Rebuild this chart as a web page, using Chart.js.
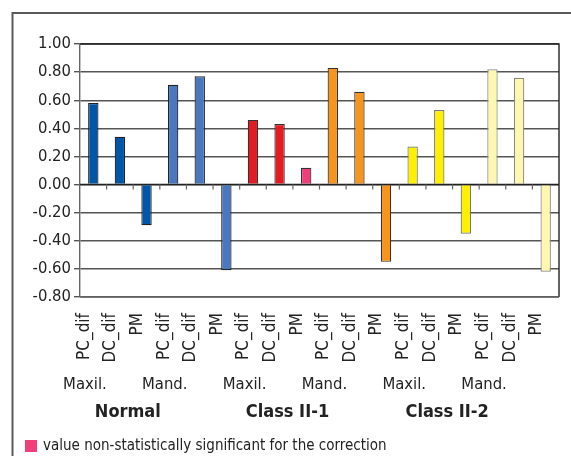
<!DOCTYPE html>
<html>
<head>
<meta charset="utf-8">
<script src="https://cdn.jsdelivr.net/npm/chart.js@4/dist/chart.umd.min.js"></script>
<style>
  body { margin: 0; background: #fff; }
  canvas { display: block; }
</style>
</head>
<body>
<canvas id="chart" width="571" height="456"></canvas>
<script>
const measures = ["PC_dif", "DC_dif", "PM", "PC_dif", "DC_dif", "PM", "PC_dif", "DC_dif", "PM",
                  "PC_dif", "DC_dif", "PM", "PC_dif", "DC_dif", "PM", "PC_dif", "DC_dif", "PM"];
const jaws = ["Maxil.", "Mand.", "Maxil.", "Mand.", "Maxil.", "Mand."];
const groups = ["Normal", "Class II-1", "Class II-2"];
const values = [0.58, 0.34, -0.29, 0.71, 0.77, -0.61,
                0.46, 0.43, 0.12, 0.83, 0.66, -0.55,
                0.27, 0.53, -0.35, 0.82, 0.76, -0.62];
const barColors = ["#0057a8", "#0057a8", "#0057a8", "#4a78be", "#4a78be", "#4a78be",
                   "#e41b23", "#e41b23", "#ef3f78", "#f7941d", "#f7941d", "#f7941d",
                   "#fff000", "#fff000", "#fff000", "#fff6b0", "#fff6b0", "#fff6b0"];
const edgeColors = ["#222", "#222", "#222", "#222", "#222", "#222",
                    "#333", "#333", "#333", "#333", "#333", "#333",
                    "#777", "#777", "#777", "#888", "#888", "#888"];
const legendText = "value non-statistically significant for the correction";
const legendColor = "#ef3f78";

const FONT = "'DejaVu Sans Condensed', 'Liberation Sans Narrow', sans-serif";

// fixed band height, no side overflow padding
const fitBand = (h) => (s) => {
  s.height = h;
  s.paddingLeft = 0;
  s.paddingRight = 0;
};

const framePlugin = {
  id: "frame",
  beforeDraw(chart) {
    const ctx = chart.ctx;
    ctx.save();
    ctx.strokeStyle = "#5a5a5a";
    ctx.lineWidth = 2;
    ctx.beginPath();
    ctx.moveTo(12.5, chart.height);
    ctx.lineTo(12.5, 13);
    ctx.lineTo(chart.width, 13);
    ctx.stroke();
    ctx.restore();
  },
  afterDatasetsDraw(chart) {
    const { ctx, chartArea: a, scales } = chart;
    const y0 = scales.y.getPixelForValue(0);
    const xs = scales.x;
    ctx.save();
    // plot border
    ctx.strokeStyle = "#222";
    ctx.lineWidth = 1.4;
    ctx.beginPath();
    ctx.moveTo(a.left, a.top);
    ctx.lineTo(a.right, a.top);
    ctx.lineTo(a.right, a.bottom);
    ctx.stroke();
    ctx.strokeStyle = "#666";
    ctx.beginPath();
    ctx.moveTo(a.right, a.bottom);
    ctx.lineTo(a.left, a.bottom);
    ctx.stroke();
    // zero axis with category ticks
    ctx.strokeStyle = "#222";
    ctx.lineWidth = 1.5;
    ctx.beginPath();
    ctx.moveTo(a.left, y0);
    ctx.lineTo(a.right, y0);
    ctx.stroke();
    ctx.strokeStyle = "#666";
    ctx.lineWidth = 1.2;
    ctx.beginPath();
    for (let i = 0; i < measures.length - 1; i++) {
      const bx = (xs.getPixelForTick(i) + xs.getPixelForTick(i + 1)) / 2;
      ctx.moveTo(bx, y0);
      ctx.lineTo(bx, y0 + 5);
    }
    ctx.stroke();
    ctx.restore();
  },
  afterDraw(chart) {
    // footnote legend
    const ctx = chart.ctx;
    const y = chart.height - 10;
    ctx.save();
    ctx.fillStyle = legendColor;
    ctx.fillRect(25, y - 6, 12, 12);
    ctx.fillStyle = "#222";
    ctx.font = "15px " + FONT;
    ctx.textBaseline = "middle";
    ctx.fillText(legendText, 43, y);
    ctx.restore();
  }
};

new Chart(document.getElementById("chart"), {
  type: "bar",
  data: {
    labels: measures,
    datasets: [{
      data: values,
      backgroundColor: barColors,
      borderColor: edgeColors,
      borderWidth: 1.2,
      barPercentage: 0.39,
      categoryPercentage: 1
    }]
  },
  options: {
    responsive: false,
    animation: false,
    layout: { padding: { left: 25, top: 44, right: 12, bottom: 34 } },
    plugins: {
      tooltip: { enabled: false },
      legend: { display: false }
    },
    scales: {
      y: {
        min: -0.8,
        max: 1.0,
        weight: 0,
        ticks: {
          stepSize: 0.2,
          padding: 3,
          color: "#222",
          font: { family: FONT, size: 16.5 },
          callback: (v) => Number(v).toFixed(2)
        },
        grid: { color: "#555", lineWidth: 1.4, tickLength: 6 },
        border: { color: "#666", width: 1.4 },
        afterFit: (s) => { s.width = 55; }
      },
      x: {
        weight: 0,
        grid: { display: false },
        border: { display: false },
        ticks: {
          minRotation: 90,
          maxRotation: 90,
          autoSkip: false,
          padding: 8,
          labelOffset: -9,
          color: "#222",
          font: { family: FONT, size: 17 }
        },
        afterFit: fitBand(68)
      },
      x2: {
        type: "category",
        labels: jaws,
        position: "bottom",
        weight: 1,
        grid: { display: false },
        border: { display: false },
        ticks: {
          maxRotation: 0,
          autoSkip: false,
          padding: 2,
          labelOffset: -35,
          color: "#222",
          font: { family: FONT, size: 16.5 }
        },
        afterFit: fitBand(27)
      },
      x3: {
        type: "category",
        labels: groups,
        position: "bottom",
        weight: 2,
        grid: { display: false },
        border: { display: false },
        ticks: {
          maxRotation: 0,
          autoSkip: false,
          padding: 2,
          labelOffset: -32,
          color: "#222",
          font: { family: FONT, size: 18, weight: "bold" }
        },
        afterFit: fitBand(30)
      }
    }
  },
  plugins: [framePlugin]
});
</script>
</body>
</html>
